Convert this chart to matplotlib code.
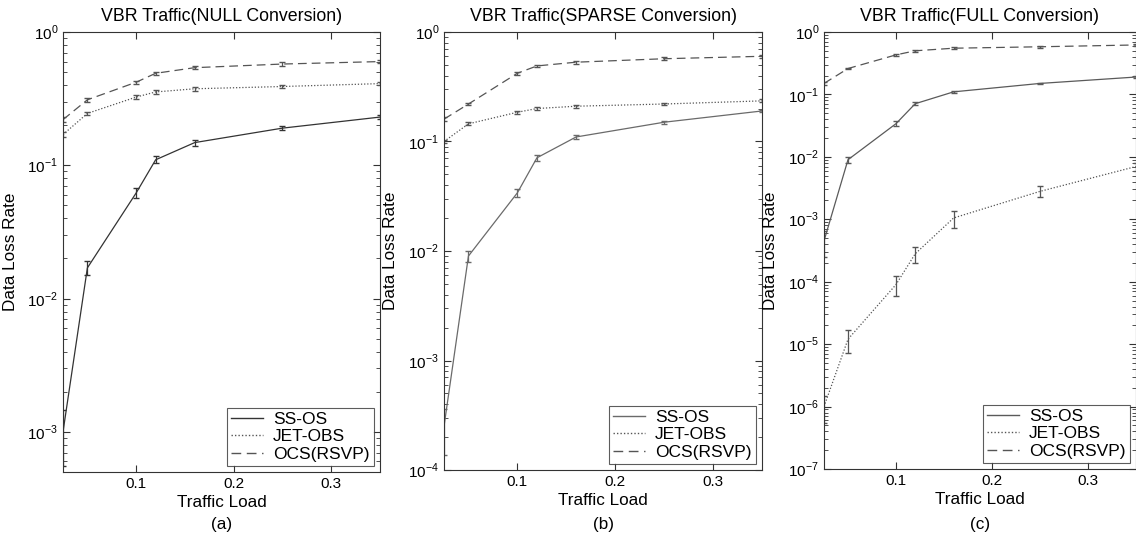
import matplotlib.pyplot as plt
import numpy as np
from matplotlib.lines import Line2D
from matplotlib.ticker import NullFormatter

plt.rcParams['font.family'] = ['Liberation Sans', 'DejaVu Sans']
plt.rcParams['mathtext.fontset'] = 'custom'
plt.rcParams['mathtext.rm'] = 'Liberation Sans'

# traffic load points shared by every panel
loads = [0.025, 0.05, 0.1, 0.12, 0.16, 0.25, 0.35]
series_names = ['SS-OS', 'JET-OBS', 'OCS(RSVP)']
titles = ['VBR Traffic(NULL Conversion)', 'VBR Traffic(SPARSE Conversion)', 'VBR Traffic(FULL Conversion)']
captions = ['(a)', '(b)', '(c)']

# (a) NULL conversion
null_ssos = [1.0e-3, 0.017, 0.062, 0.11, 0.148, 0.19, 0.23]
null_jet = [0.17, 0.245, 0.325, 0.355, 0.375, 0.39, 0.41]
null_ocs = [0.22, 0.31, 0.42, 0.49, 0.54, 0.575, 0.60]
# (b) SPARSE conversion
sparse_ssos = [2.5e-4, 0.009, 0.034, 0.071, 0.11, 0.15, 0.19]
sparse_jet = [0.10, 0.145, 0.185, 0.20, 0.21, 0.22, 0.235]
sparse_ocs = [0.16, 0.22, 0.42, 0.49, 0.53, 0.57, 0.60]
# (c) FULL conversion
full_ssos = [4.5e-4, 0.0090, 0.034, 0.071, 0.11, 0.15, 0.19]
full_jet = [1.0e-6, 1.2e-5, 9.0e-5, 2.8e-4, 1.05e-3, 2.8e-3, 7.0e-3]
full_ocs = [0.15, 0.26, 0.43, 0.50, 0.55, 0.58, 0.62]

# relative half-width of the error bars
err_ssos = [0.45, 0.12, 0.09, 0.06, 0.05, 0.03, 0.03]
err_jet = [0.04, 0.03, 0.03, 0.03, 0.03, 0.03, 0.03]
err_ocs = [0.04, 0.03, 0.03, 0.03, 0.03, 0.03, 0.03]
err_jet_full = [0.45, 0.4, 0.35, 0.3, 0.3, 0.2, 0.15]

panels = [
    (null_ssos, null_jet, null_ocs, err_jet),
    (sparse_ssos, sparse_jet, sparse_ocs, err_jet),
    (full_ssos, full_jet, full_ocs, err_jet_full),
]
ylims = [(5e-4, 1), (1e-4, 1), (1e-7, 1)]
line_grey = ['#333333', '#6a6a6a', '#5a5a5a']

W, H = 1136, 537
# axes boxes in pixels: left, right, top, bottom
boxes = [(63, 380, 32, 472), (444, 762, 32, 470), (824, 1136, 32, 469)]
ylabel_x = [18, 398, 778]

fig = plt.figure(figsize=(W / 100, H / 100), dpi=100)

for k, (ssos, jet, ocs, ejet) in enumerate(panels):
    l, r, t, b = boxes[k]
    ax = fig.add_axes([l / W, 1 - b / H, (r - l) / W, (b - t) / H])
    styles = [dict(ls='-', color=line_grey[k]),
              dict(ls=(0, (1, 1.5)), color='#555555'),
              dict(ls=(0, (7, 4)), color='#555555')]
    x = np.array(loads)
    handles = []
    for vals, errs, st, name in zip([ssos, jet, ocs], [err_ssos, ejet, err_ocs], styles, series_names):
        y = np.array(vals)
        e = np.array(errs) * y
        ax.errorbar(x, y, yerr=e, lw=0.9, capsize=2.5, elinewidth=0.9, **st)
        handles.append(Line2D([], [], lw=1.0, label=name, **st))
    ax.set_yscale('log')
    ax.set_xlim(0.025, 0.35)
    lo, hi = ylims[k]
    # only the decades inside the view, so no hidden labels sit outside
    decades = np.arange(int(np.ceil(np.log10(lo))), int(np.log10(hi)) + 1)
    ax.set_yticks([10.0 ** d for d in decades])
    ax.set_yticklabels(['$10^{%d}$' % d for d in decades])
    minors = [m * 10.0 ** d for d in range(decades[0] - 1, decades[-1]) for m in range(2, 10)]
    ax.set_yticks([v for v in minors if lo <= v <= hi], minor=True)
    ax.yaxis.set_minor_formatter(NullFormatter())
    ax.set_ylim(lo, hi)
    ax.set_xticks([0.1, 0.2, 0.3])
    ax.set_xticklabels(['0.1', '0.2', '0.3'])
    ax.tick_params(which='both', direction='in', top=True, right=True, labelsize=11,
                   color='#333333')
    ax.tick_params(which='major', length=5)
    ax.tick_params(which='minor', length=3, width=0.6)
    for s in ax.spines.values():
        s.set_linewidth(0.8)
        s.set_color('#333333')
    ax.set_title(titles[k], fontsize=12.8, pad=8)
    ax.set_xlabel('Traffic Load', fontsize=12.3, labelpad=3)
    ax.set_ylabel('Data Loss Rate', fontsize=12.3)
    ax.yaxis.set_label_coords((ylabel_x[k] - l) / (r - l), 0.5)
    fig.text((l + r) / 2 / W, 1 - 524 / H, captions[k], fontsize=12.3, ha='center', va='center')
    leg = ax.legend(handles=handles, loc='lower right', fontsize=12.5, frameon=True, fancybox=False,
                    borderaxespad=0.35, handlelength=1.8, labelspacing=0.12,
                    borderpad=0.25, handletextpad=0.6)
    leg.get_frame().set_edgecolor('#333333')
    leg.get_frame().set_linewidth(0.8)

fig.savefig('out.png', dpi=100)
